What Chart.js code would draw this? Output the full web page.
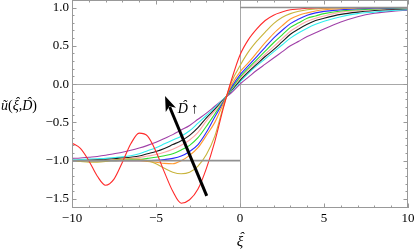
<!DOCTYPE html>
<html>
<head>
<meta charset="utf-8">
<script src="https://cdn.jsdelivr.net/npm/chart.js@4.4.0/dist/chart.umd.min.js"></script>
<style>
    html, body { margin: 0; padding: 0; background: #fff; }
    #wrap { width: 415px; height: 251px; }
</style>
</head>
<body>
<div id="wrap"><canvas id="myChart" width="415" height="251"></canvas></div>
<script>
// sample positions along xi-hat, shared by every curve
const xi = [-10, -9.5, -9, -8.5, -8, -7.5, -7, -6.5, -6, -5.5, -5, -4.5, -4, -3.5, -3, -2.5, -2, -1.5, -1, -0.5,
            0, 0.5, 1, 1.5, 2, 2.5, 3, 3.5, 4, 4.5, 5, 6, 7, 8, 9, 10];

// u~(xi, D), smallest D (red) to largest D (purple)
const uRed    = [-0.77, -0.84, -1.0, -1.2, -1.32, -1.24, -1.02, -0.78, -0.64, -0.68, -0.88, -1.15, -1.40, -1.555, -1.51, -1.37, -1.10, -0.75, -0.32, 0.06,
                 0.38, 0.58, 0.72, 0.83, 0.90, 0.94, 0.97, 0.98, 0.99, 0.995, 0.997, 1, 1, 1, 1, 1];
const uOlive  = [-1.0, -1.01, -1.02, -1.02, -1.01, -0.99, -0.98, -0.975, -0.98, -1.0, -1.04, -1.10, -1.15, -1.17, -1.15, -1.07, -0.92, -0.68, -0.30, 0.03,
                 0.24, 0.42, 0.56, 0.68, 0.79, 0.87, 0.92, 0.95, 0.97, 0.98, 0.99, 0.995, 1, 1, 1, 1];
const uOrange = [-1.0, -1.0, -1.0, -1.0, -1.0, -1.0, -1.0, -1.0, -1.0, -1.01, -1.02, -1.035, -1.04, -1.0, -0.93, -0.83, -0.67, -0.50, -0.26, -0.01,
                 0.16, 0.28, 0.41, 0.54, 0.66, 0.76, 0.85, 0.90, 0.93, 0.955, 0.97, 0.985, 0.993, 0.997, 1, 1];
const uBlue   = [-1.0, -1.0, -1.0, -1.0, -1.0, -1.0, -1.0, -1.0, -1.0, -1.0, -0.995, -0.985, -0.97, -0.94, -0.88, -0.79, -0.63, -0.43, -0.24, -0.04,
                 0.12, 0.24, 0.36, 0.48, 0.60, 0.70, 0.79, 0.85, 0.90, 0.93, 0.95, 0.97, 0.985, 0.99, 0.995, 1];
const uGreen  = [-1.0, -1.0, -1.0, -1.0, -1.0, -1.0, -0.995, -0.99, -0.985, -0.97, -0.955, -0.935, -0.91, -0.86, -0.80, -0.70, -0.55, -0.39, -0.23, -0.06,
                 0.09, 0.21, 0.32, 0.43, 0.54, 0.64, 0.74, 0.80, 0.86, 0.89, 0.92, 0.955, 0.97, 0.98, 0.99, 0.995];
const uPink   = [-1.0, -1.0, -1.0, -1.0, -0.995, -0.99, -0.98, -0.97, -0.96, -0.94, -0.92, -0.89, -0.85, -0.80, -0.73, -0.63, -0.48, -0.35, -0.22, -0.07,
                 0.07, 0.19, 0.29, 0.39, 0.49, 0.59, 0.69, 0.76, 0.82, 0.86, 0.89, 0.94, 0.96, 0.975, 0.985, 0.99];
const uBlack  = [-1.0, -1.0, -0.995, -0.99, -0.985, -0.975, -0.965, -0.955, -0.94, -0.91, -0.88, -0.84, -0.79, -0.74, -0.67, -0.57, -0.44, -0.33, -0.21, -0.08,
                 0.05, 0.16, 0.26, 0.36, 0.45, 0.55, 0.65, 0.72, 0.78, 0.83, 0.86, 0.91, 0.94, 0.96, 0.975, 0.985];
const uCyan   = [-0.99, -0.985, -0.98, -0.975, -0.97, -0.96, -0.95, -0.935, -0.91, -0.87, -0.83, -0.78, -0.73, -0.68, -0.61, -0.51, -0.41, -0.31, -0.20, -0.09,
                 0.03, 0.14, 0.24, 0.33, 0.42, 0.51, 0.60, 0.67, 0.73, 0.78, 0.82, 0.88, 0.92, 0.94, 0.96, 0.97];
const uPurple = [-0.97, -0.965, -0.955, -0.945, -0.93, -0.91, -0.89, -0.865, -0.835, -0.80, -0.76, -0.71, -0.66, -0.60, -0.54, -0.46, -0.38, -0.29, -0.20, -0.11,
                 0.0, 0.09, 0.18, 0.26, 0.34, 0.42, 0.50, 0.56, 0.62, 0.67, 0.72, 0.81, 0.88, 0.925, 0.95, 0.965];

// the D -> 0 step profile
const stepLeftX = [-10, 0];
const stepLeftY = [-1, -1];
const stepRightX = [0, 10];
const stepRightY = [1, 1];

const xTicks = [-10, -5, 0, 5, 10];
const yTicks = [-1.5, -1, -0.5, 0, 0.5, 1];

const curves = [
    [uRed, '#ff2a2a'],
    [uOlive, '#c8b43c'],
    [uOrange, '#ff9a30'],
    [uBlue, '#2a2aff'],
    [uGreen, '#30dd30'],
    [uPink, '#ffa8a8'],
    [uBlack, '#1a1a1a'],
    [uCyan, '#30eeee'],
    [uPurple, '#a040a8']
];

function pts(xs, ys) {
    return xs.map((v, i) => ({ x: v, y: ys[i] }));
}

function fmt(v, digits) {
    return v.toFixed(digits).replace('-', '\u2212');
}

const serif = "'Liberation Serif', 'Times New Roman', serif";

// writes s (left aligned) and puts a circumflex over it, returns the width
function hatted(ctx, s, x, y, rise, shift) {
    ctx.textAlign = 'left';
    ctx.fillText(s, x, y);
    const w = ctx.measureText(s).width;
    ctx.textAlign = 'center';
    ctx.fillText('\u02C6', x + w / 2 + shift, y - rise);
    ctx.textAlign = 'left';
    return w;
}

// frame, inward ticks, axes, arrow and the hand-placed labels
const framePlugin = {
    id: 'framePlugin',
    beforeDatasetsDraw(chart) {
        const { ctx, chartArea: a, scales: { x, y } } = chart;
        ctx.save();
        ctx.strokeStyle = '#a8a8a8';
        ctx.lineWidth = 1;
        const y0 = Math.round(y.getPixelForValue(0)) + 0.5;
        const x0 = Math.round(x.getPixelForValue(0)) + 0.5;
        ctx.beginPath();
        ctx.moveTo(a.left, y0); ctx.lineTo(a.right, y0);
        ctx.moveTo(x0, a.top); ctx.lineTo(x0, a.bottom);
        ctx.stroke();
        ctx.restore();
    },
    afterDatasetsDraw(chart) {
        const { ctx, chartArea: a, scales: { x, y } } = chart;
        ctx.save();

        // frame
        ctx.strokeStyle = '#999';
        ctx.lineWidth = 1;
        ctx.strokeRect(a.left + 0.5, a.top + 0.5, a.right - a.left - 1, a.bottom - a.top - 1);

        // minor + major ticks, pointing in
        ctx.beginPath();
        for (let i = -10; i <= 10; i++) {
            const px = Math.round(x.getPixelForValue(i)) + 0.5;
            const len = i % 5 === 0 ? 4.5 : 2.5;
            ctx.moveTo(px, a.bottom); ctx.lineTo(px, a.bottom - len);
            ctx.moveTo(px, a.top); ctx.lineTo(px, a.top + len);
        }
        for (let i = -16; i <= 10; i++) {
            const py = Math.round(y.getPixelForValue(i / 10)) + 0.5;
            const len = i % 5 === 0 ? 4.5 : 2.5;
            ctx.moveTo(a.left, py); ctx.lineTo(a.left + len, py);
            ctx.moveTo(a.right, py); ctx.lineTo(a.right - len, py);
        }
        ctx.stroke();

        // arrow marking growing D
        const tail = { x: x.getPixelForValue(-1.98), y: y.getPixelForValue(-1.46) };
        const tip = { x: x.getPixelForValue(-4.46), y: y.getPixelForValue(-0.155) };
        const dx = tip.x - tail.x, dy = tip.y - tail.y;
        const L = Math.hypot(dx, dy), ux = dx / L, uy = dy / L;
        const headLen = 15, headW = 5.5;
        ctx.strokeStyle = '#000';
        ctx.fillStyle = '#000';
        ctx.lineWidth = 3;
        ctx.beginPath();
        ctx.moveTo(tail.x, tail.y);
        ctx.lineTo(tip.x - ux * (headLen - 3), tip.y - uy * (headLen - 3));
        ctx.stroke();
        const bx = tip.x - ux * headLen, by = tip.y - uy * headLen;
        ctx.beginPath();
        ctx.moveTo(tip.x, tip.y);
        ctx.lineTo(bx - uy * headW, by + ux * headW);
        ctx.lineTo(tip.x - ux * headLen * 0.75, tip.y - uy * headLen * 0.75);
        ctx.lineTo(bx + uy * headW, by - ux * headW);
        ctx.closePath();
        ctx.fill();

        // "D^ ↑" next to the arrow
        ctx.fillStyle = '#000';
        ctx.textBaseline = 'alphabetic';
        const lx = x.getPixelForValue(-3.7), ly = y.getPixelForValue(-0.38);
        ctx.font = 'italic 14px ' + serif;
        const dw = hatted(ctx, 'D', lx, ly, 3, 1.5);
        ctx.font = '15px ' + serif;
        ctx.fillText('\u2191', lx + dw + 3, ly);

        // y title, kept horizontal
        let tx = 1;
        const ty = 110;
        ctx.font = 'italic 14px ' + serif;
        ctx.fillText('\u0169', tx, ty); tx += ctx.measureText('\u0169').width;
        ctx.font = '14px ' + serif;
        ctx.fillText('(', tx, ty); tx += ctx.measureText('(').width;
        ctx.font = 'italic 14px ' + serif;
        tx += hatted(ctx, '\u03BE', tx, ty, 3.5, 1.5);
        ctx.font = '14px ' + serif;
        ctx.fillText(',', tx, ty); tx += ctx.measureText(',').width;
        ctx.font = 'italic 14px ' + serif;
        tx += hatted(ctx, 'D', tx, ty, 3, 1.5);
        ctx.font = '14px ' + serif;
        ctx.fillText(')', tx, ty);

        // x title
        ctx.font = 'italic 15px ' + serif;
        const xw = ctx.measureText('\u03BE').width;
        hatted(ctx, '\u03BE', x.getPixelForValue(0) - xw / 2, 246, 4, 1.5);

        ctx.restore();
    }
};

const datasets = [
    { data: pts(stepLeftX, stepLeftY), borderColor: '#909090', borderWidth: 1.6 },
    { data: pts(stepRightX, stepRightY), borderColor: '#909090', borderWidth: 1.6 }
];
curves.forEach(([ys, color]) => {
    datasets.push({ data: pts(xi, ys), borderColor: color, borderWidth: 1.1, cubicInterpolationMode: 'monotone' });
});

const tickFont = { family: serif, size: 13 };

new Chart(document.getElementById('myChart').getContext('2d'), {
    type: 'line',
    data: { datasets: datasets },
    options: {
        responsive: false,
        animation: false,
        devicePixelRatio: 1,
        layout: { padding: { top: 0, right: 7, bottom: 0, left: 0 } },
        elements: { point: { radius: 0 } },
        plugins: { legend: { display: false }, tooltip: { enabled: false } },
        scales: {
            x: {
                type: 'linear',
                min: -10,
                max: 10,
                grid: { display: false, drawTicks: false },
                border: { display: false },
                afterBuildTicks: s => { s.ticks = xTicks.map(v => ({ value: v })); },
                afterFit: s => { s.height = 43; s.paddingLeft = 0; s.paddingRight = 0; },
                ticks: { padding: 3, color: '#000', font: tickFont, maxRotation: 0, autoSkip: false,
                         callback: v => fmt(v, 0) }
            },
            y: {
                type: 'linear',
                min: -1.618,
                max: 1.098,
                grid: { display: false, drawTicks: false },
                border: { display: false },
                afterBuildTicks: s => { s.ticks = yTicks.map(v => ({ value: v })); },
                afterFit: s => { s.width = 72; s.paddingTop = 0; s.paddingBottom = 0; },
                ticks: { padding: 3, color: '#000', font: tickFont, autoSkip: false,
                         callback: v => fmt(v, 1) }
            }
        }
    },
    plugins: [framePlugin]
});
</script>
</body>
</html>
